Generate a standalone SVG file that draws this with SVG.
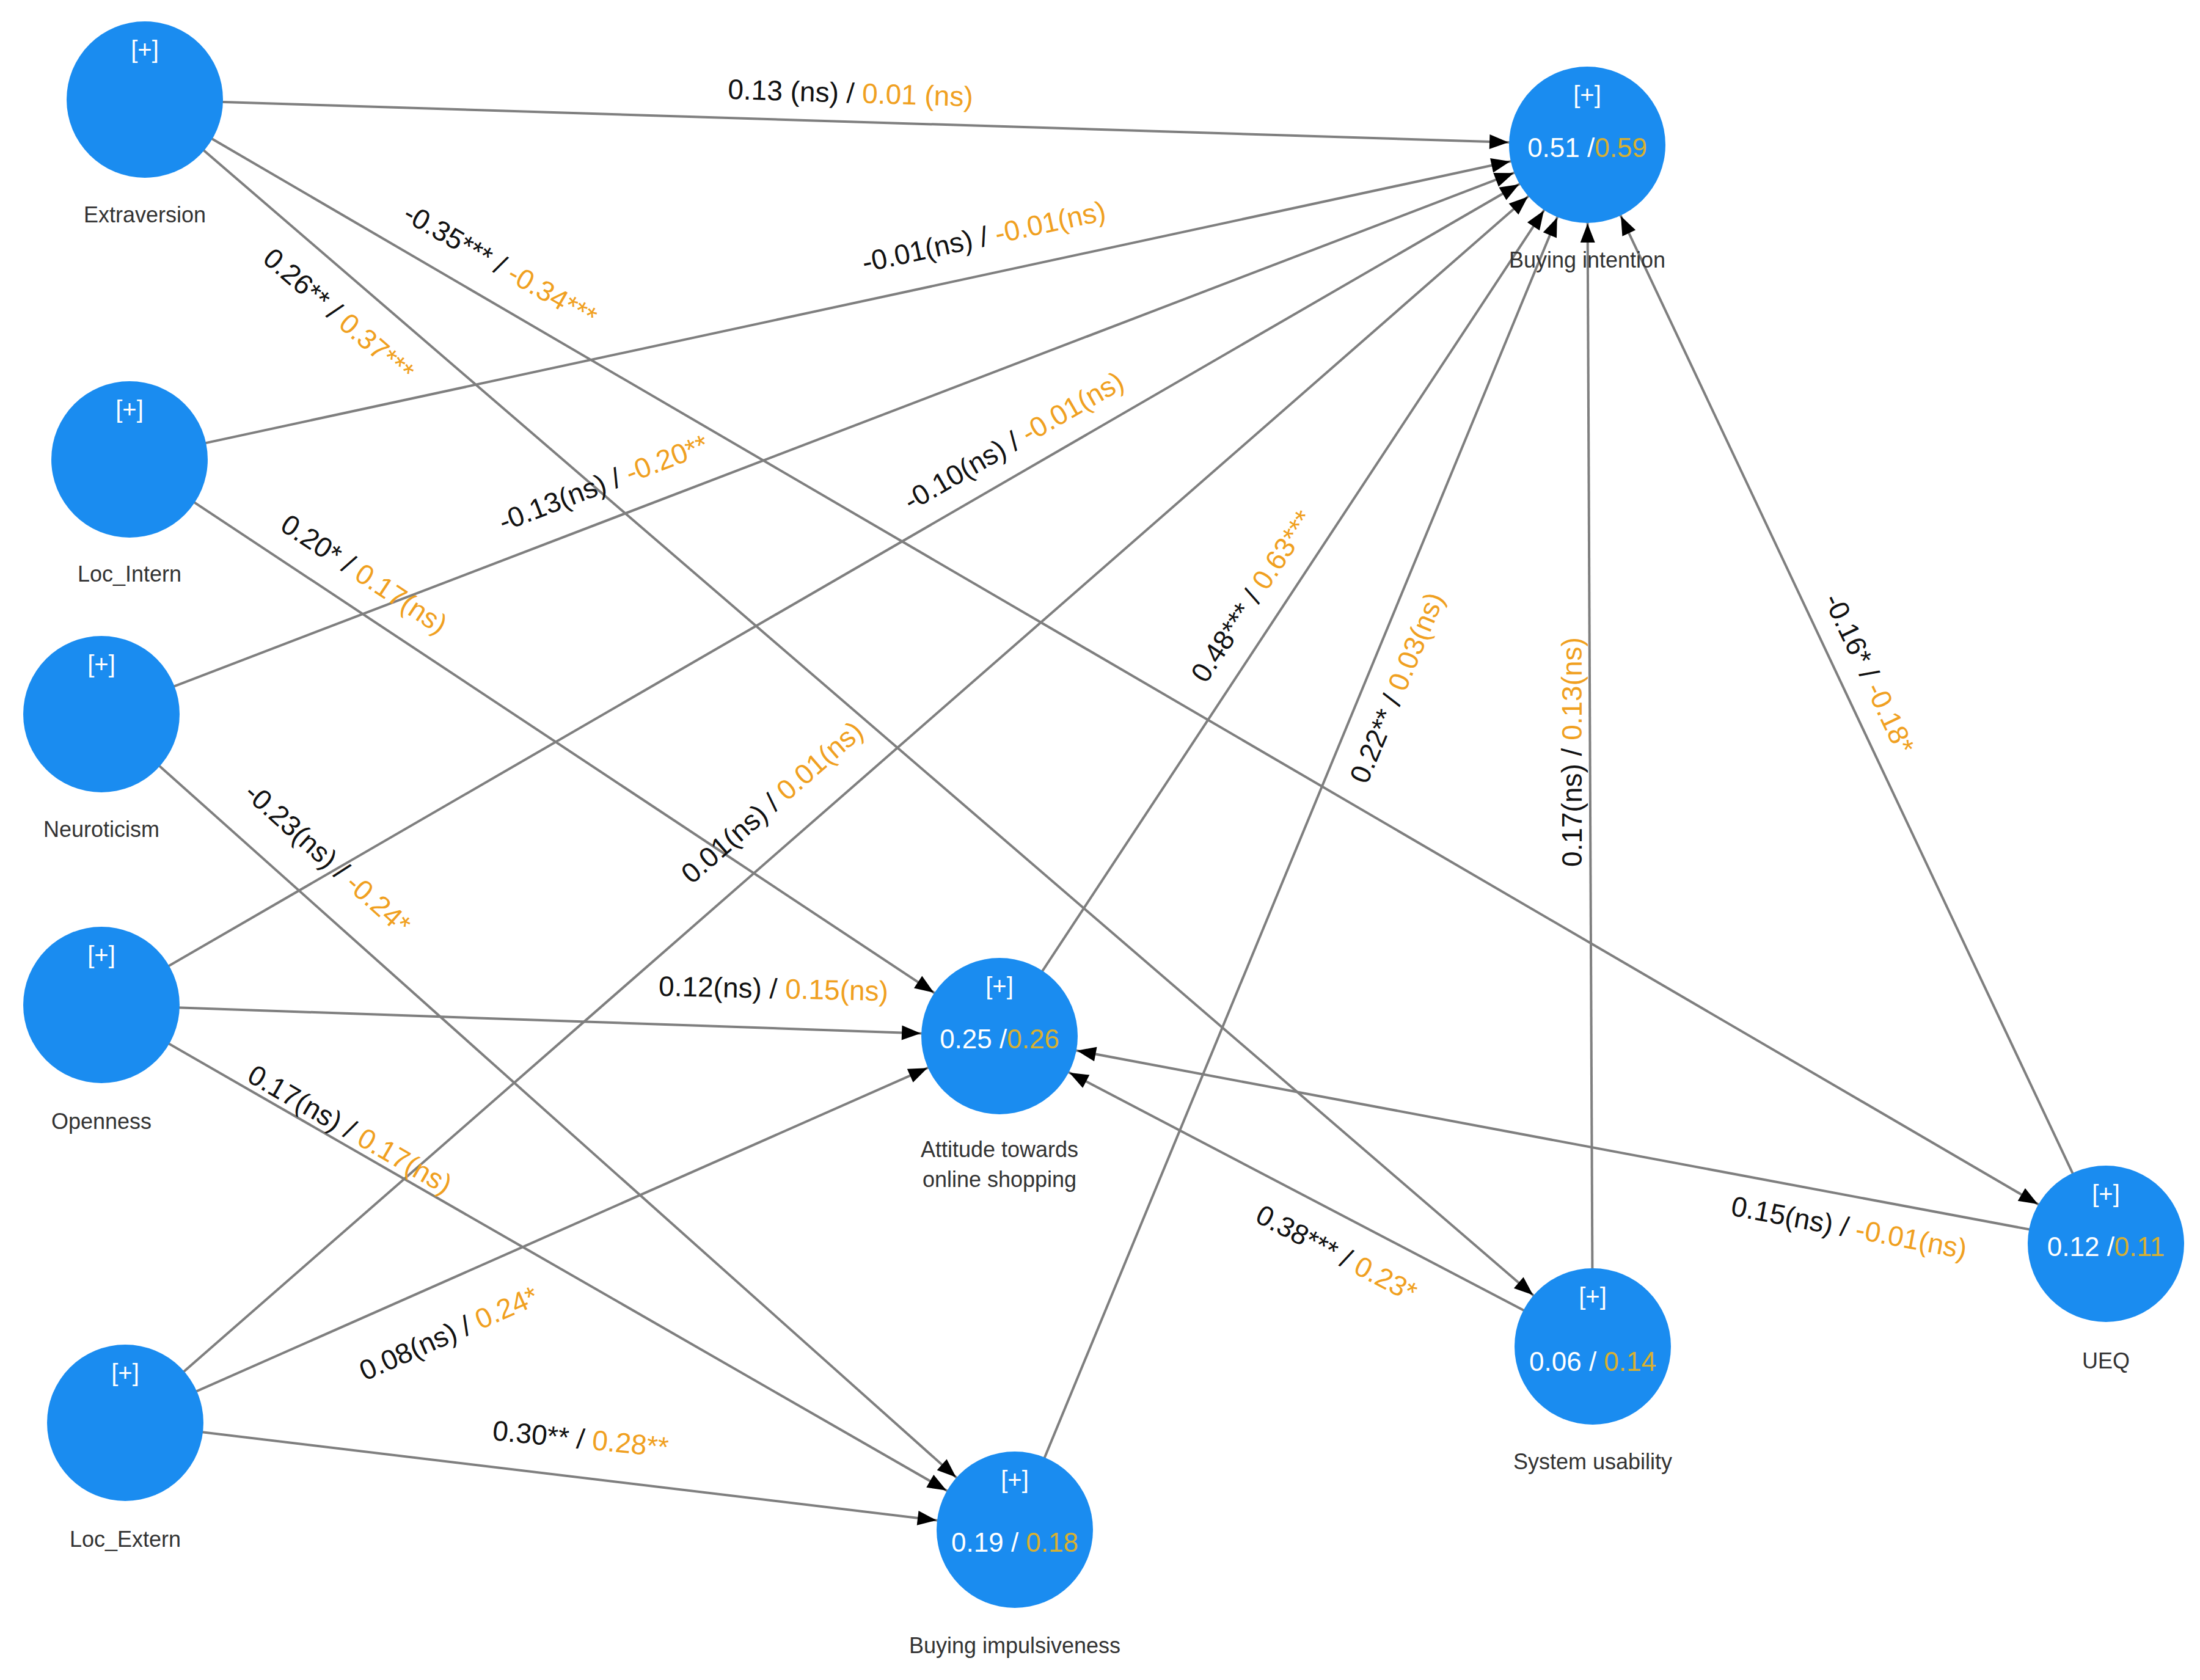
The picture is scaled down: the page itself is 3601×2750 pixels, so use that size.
<svg xmlns="http://www.w3.org/2000/svg" width="3601" height="2750" viewBox="0 0 3601 2750">
<style>
.e{stroke:#7f7f7f;stroke-width:4;fill:none;marker-end:url(#ah)}
.n{fill:#1a8cf0}
.t{font-family:"Liberation Sans",Arial,sans-serif}
.el{font-size:46px;fill:#111;text-anchor:middle;dominant-baseline:middle}
.o{fill:#f0a020}
.nl{font-size:36px;fill:#333;text-anchor:middle}
.pl{font-size:40px;fill:#fff;text-anchor:middle}
.v{font-size:44px;fill:#fff;text-anchor:middle;dominant-baseline:middle}
.vo{fill:#d8b030}
</style>
<defs>
<marker id="ah" markerUnits="userSpaceOnUse" viewBox="-170 -20 170 40" refX="0" refY="0" markerWidth="170" markerHeight="40" orient="auto">
<path d="M-129,0 L-160,-12 L-160,12 Z" fill="#000"/>
</marker>
</defs>
<g id="connectors">
<line class="e" x1="237" y1="163" x2="2598" y2="237"/>
<line class="e" x1="237" y1="163" x2="3447" y2="2036"/>
<line class="e" x1="237" y1="163" x2="2607" y2="2204"/>
<line class="e" x1="212" y1="752" x2="2598" y2="237"/>
<line class="e" x1="212" y1="752" x2="1636" y2="1696"/>
<line class="e" x1="166" y1="1169" x2="2598" y2="237"/>
<line class="e" x1="166" y1="1169" x2="1661" y2="2504"/>
<line class="e" x1="166" y1="1645" x2="2598" y2="237"/>
<line class="e" x1="166" y1="1645" x2="1636" y2="1696"/>
<line class="e" x1="166" y1="1645" x2="1661" y2="2504"/>
<line class="e" x1="205" y1="2329" x2="2598" y2="237"/>
<line class="e" x1="205" y1="2329" x2="1636" y2="1696"/>
<line class="e" x1="205" y1="2329" x2="1661" y2="2504"/>
<line class="e" x1="1636" y1="1696" x2="2598" y2="237"/>
<line class="e" x1="1661" y1="2504" x2="2598" y2="237"/>
<line class="e" x1="2607" y1="2204" x2="2598" y2="237"/>
<line class="e" x1="3447" y1="2036" x2="2598" y2="237"/>
<line class="e" x1="2607" y1="2204" x2="1636" y2="1696"/>
<line class="e" x1="3447" y1="2036" x2="1636" y2="1696"/>
</g>
<g id="edge-labels" class="t el">
<text transform="translate(1392,156) rotate(1.8)">0.13 (ns) / <tspan class="o">0.01 (ns)</tspan></text>
<text transform="translate(817,437) rotate(30)">-0.35*** / <tspan class="o">-0.34***</tspan></text>
<text transform="translate(552,518) rotate(40.7)">0.26** / <tspan class="o">0.37***</tspan></text>
<text transform="translate(1611,391) rotate(-12.2)">-0.01(ns) / <tspan class="o">-0.01(ns)</tspan></text>
<text transform="translate(594,943) rotate(33.5)">0.20* / <tspan class="o">0.17(ns)</tspan></text>
<text transform="translate(989,794) rotate(-21)">-0.13(ns) / <tspan class="o">-0.20**</tspan></text>
<text transform="translate(534,1408) rotate(41.8)">-0.23(ns) / <tspan class="o">-0.24*</tspan></text>
<text transform="translate(1661,725) rotate(-30)">-0.10(ns) / <tspan class="o">-0.01(ns)</tspan></text>
<text transform="translate(1266,1622) rotate(1.3)">0.12(ns) / <tspan class="o">0.15(ns)</tspan></text>
<text transform="translate(571,1852) rotate(29.9)">0.17(ns) / <tspan class="o">0.17(ns)</tspan></text>
<text transform="translate(1266,1316) rotate(-41)">0.01(ns) / <tspan class="o">0.01(ns)</tspan></text>
<text transform="translate(736,2186) rotate(-23.9)">0.08(ns) / <tspan class="o">0.24*</tspan></text>
<text transform="translate(950,2359) rotate(5.6)">0.30** / <tspan class="o">0.28**</tspan></text>
<text transform="translate(2053,978) rotate(-56.6)">0.48*** / <tspan class="o">0.63***</tspan></text>
<text transform="translate(2290,1127) rotate(-67.5)">0.22** / <tspan class="o">0.03(ns)</tspan></text>
<text transform="translate(2577,1231) rotate(-90)">0.17(ns) / <tspan class="o">0.13(ns)</tspan></text>
<text transform="translate(3056,1104) rotate(64.7)">-0.16* / <tspan class="o">-0.18*</tspan></text>
<text transform="translate(2186,2055) rotate(27.6)">0.38*** / <tspan class="o">0.23*</tspan></text>
<text transform="translate(3026,2013) rotate(10.6)">0.15(ns) / <tspan class="o">-0.01(ns)</tspan></text>
</g>
<g id="extraversion" class="t"><circle class="n" cx="237" cy="163" r="128"/><text class="pl" x="237" y="95">[+]</text><text class="nl" x="237" y="364">Extraversion</text></g>
<g id="loc_intern" class="t"><circle class="n" cx="212" cy="752" r="128"/><text class="pl" x="212" y="684">[+]</text><text class="nl" x="212" y="952">Loc_Intern</text></g>
<g id="neuroticism" class="t"><circle class="n" cx="166" cy="1169" r="128"/><text class="pl" x="166" y="1101">[+]</text><text class="nl" x="166" y="1370">Neuroticism</text></g>
<g id="openness" class="t"><circle class="n" cx="166" cy="1645" r="128"/><text class="pl" x="166" y="1577">[+]</text><text class="nl" x="166" y="1848">Openness</text></g>
<g id="loc_extern" class="t"><circle class="n" cx="205" cy="2329" r="128"/><text class="pl" x="205" y="2261">[+]</text><text class="nl" x="205" y="2532">Loc_Extern</text></g>
<g id="buying_intention" class="t"><circle class="n" cx="2598" cy="237" r="128"/><text class="pl" x="2598" y="169">[+]</text><text class="v" x="2598" y="245">0.51 /<tspan class="vo">0.59</tspan></text><text class="nl" x="2598" y="438">Buying intention</text></g>
<g id="attitude" class="t"><circle class="n" cx="1636" cy="1696" r="128"/><text class="pl" x="1636" y="1628">[+]</text><text class="v" x="1636" y="1704">0.25 /<tspan class="vo">0.26</tspan></text><text class="nl" x="1636" y="1894">Attitude towards</text><text class="nl" x="1636" y="1943">online shopping</text></g>
<g id="buying_impulsiveness" class="t"><circle class="n" cx="1661" cy="2504" r="128"/><text class="pl" x="1661" y="2436">[+]</text><text class="v" x="1661" y="2528">0.19 / <tspan class="vo">0.18</tspan></text><text class="nl" x="1661" y="2706">Buying impulsiveness</text></g>
<g id="system_usability" class="t"><circle class="n" cx="2607" cy="2204" r="128"/><text class="pl" x="2607" y="2136">[+]</text><text class="v" x="2607" y="2232">0.06 / <tspan class="vo">0.14</tspan></text><text class="nl" x="2607" y="2405">System usability</text></g>
<g id="ueq" class="t"><circle class="n" cx="3447" cy="2036" r="128"/><text class="pl" x="3447" y="1968">[+]</text><text class="v" x="3447" y="2044">0.12 /<tspan class="vo">0.11</tspan></text><text class="nl" x="3447" y="2240">UEQ</text></g>
</svg>
